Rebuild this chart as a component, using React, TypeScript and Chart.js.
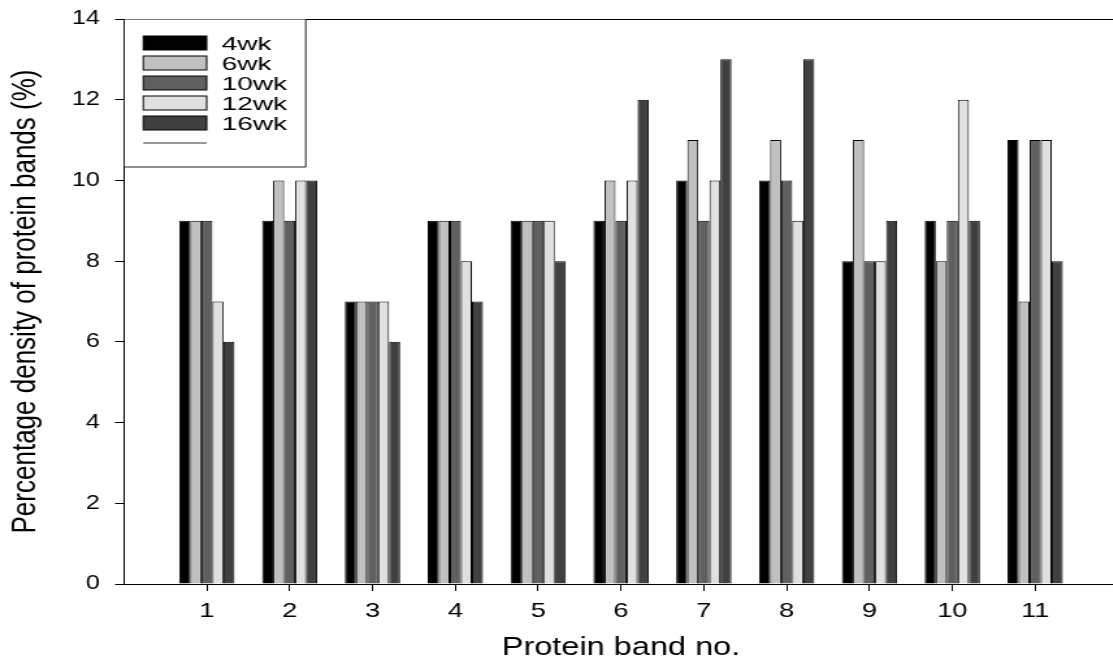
import React, { useEffect, useRef } from "react";
import { Chart, registerables } from "chart.js";

Chart.register(...registerables);

// ---- data ----
const bands = ["1", "2", "3", "4", "5", "6", "7", "8", "9", "10", "11"];
const seriesNames = ["4wk", "6wk", "10wk", "12wk", "16wk"];
const wk4 = [9, 9, 7, 9, 9, 9, 10, 10, 8, 9, 11];
const wk6 = [9, 10, 7, 9, 9, 10, 11, 11, 11, 8, 7];
const wk10 = [9, 9, 7, 9, 9, 9, 9, 10, 8, 9, 11];
const wk12 = [7, 10, 7, 8, 9, 10, 10, 9, 8, 12, 11];
const wk16 = [6, 10, 6, 7, 8, 12, 13, 13, 9, 9, 8];
const yTicks = [0, 2, 4, 6, 8, 10, 12, 14];

const seriesColors = ["#000000", "#c0c0c0", "#606060", "#e0e0e0", "#404040"];

const OUT_W = 1113;
const OUT_H = 667;
const STRETCH = 1113 / 856; // horizontal stretch of the original figure
const IN_W = 860; // internal canvas width (axis runs slightly past the right edge)
const CSS_W = IN_W * STRETCH;
const FONT = "'Liberation Sans', Arial, Helvetica, sans-serif";

const legendPlugin = {
  id: "boxLegend",
  afterDraw(chart: any) {
    const { ctx, chartArea } = chart;
    const L = chartArea.left;
    const T = chartArea.top;
    const boxR = 235.2;
    const boxB = T + 148;
    ctx.save();
    ctx.fillStyle = "#ffffff";
    ctx.fillRect(L + 0.5, T + 0.5, boxR - L - 0.5, boxB - T - 0.5);
    ctx.strokeStyle = "#222";
    ctx.lineWidth = 1;
    ctx.beginPath();
    ctx.moveTo(boxR, T);
    ctx.lineTo(boxR, boxB);
    ctx.lineTo(L, boxB);
    ctx.stroke();
    const sx = L + 14.8;
    const sw = 48.8;
    const sh = 14;
    chart.data.datasets.forEach((ds: any, i: number) => {
      const top = T + 17 + i * 20;
      ctx.fillStyle = ds.backgroundColor;
      ctx.fillRect(sx, top, sw, sh);
      ctx.strokeStyle = "#000";
      ctx.lineWidth = 1;
      ctx.strokeRect(sx, top, sw, sh);
      ctx.save();
      ctx.translate(170.5, top + 14);
      ctx.scale(1.2, 1);
      ctx.fillStyle = "#000";
      ctx.font = `18px ${FONT}`;
      ctx.textBaseline = "alphabetic";
      ctx.textAlign = "left";
      ctx.fillText(ds.label, 0, 0);
      ctx.restore();
    });
    const ly = T + 17 + 5 * 20 + 7;
    ctx.strokeStyle = "#333";
    ctx.lineWidth = 1.2;
    ctx.beginPath();
    ctx.moveTo(sx, ly);
    ctx.lineTo(sx + sw, ly);
    ctx.stroke();
    ctx.restore();
  },
};

export default function App() {
  const ref = useRef<HTMLCanvasElement | null>(null);

  useEffect(() => {
    if (!ref.current) return;
    const labels = ["", ...bands, ""];
    const pad = (arr: number[]) => [null, ...arr, null];
    const all = [wk4, wk6, wk10, wk12, wk16];
    const chart = new Chart(ref.current, {
      type: "bar",
      data: {
        labels,
        datasets: all.map((arr, i) => ({
          label: seriesNames[i],
          data: pad(arr) as any,
          backgroundColor: seriesColors[i],
          borderColor: "#000",
          borderWidth: 1,
          categoryPercentage: 0.667,
          barPercentage: 1.0,
        })),
      },
      options: {
        responsive: false,
        maintainAspectRatio: false,
        devicePixelRatio: 1,
        animation: false,
        layout: { padding: { top: 19, left: 0, right: 0, bottom: 0 } },
        plugins: {
          legend: { display: false },
          tooltip: { enabled: false },
        },
        scales: {
          x: {
            type: "category",
            offset: false,
            border: { display: true, color: "#000", width: 1 },
            grid: {
              offset: false,
              drawOnChartArea: false,
              drawTicks: true,
              tickLength: 7,
              tickColor: (c: any) =>
                c.index === 0 || c.index === labels.length - 1 ? "rgba(0,0,0,0)" : "#000",
            },
            ticks: {
              autoSkip: false,
              maxRotation: 0,
              minRotation: 0,
              padding: 8,
              color: "#000",
              font: { family: FONT, size: 21 },
            },
            title: {
              display: true,
              text: "Protein band no.",
              color: "#000",
              font: { family: FONT, size: 25 },
              padding: { top: 0, bottom: 4 },
            },
            afterFit: (scale: any) => {
              scale.height = 83;
              scale.paddingLeft = 0;
              scale.paddingRight = 0;
            },
          },
          y: {
            type: "linear",
            min: 0,
            max: 14,
            afterBuildTicks: (scale: any) => {
              scale.ticks = yTicks.map((v) => ({ value: v }));
            },
            border: { display: true, color: "#000", width: 1 },
            grid: {
              drawOnChartArea: true,
              drawTicks: true,
              tickLength: 6.9,
              color: (c: any) => (c.tick && c.tick.value === 14 ? "#000" : "rgba(0,0,0,0)"),
              tickColor: "#000",
            },
            ticks: {
              padding: 11.6,
              color: "#000",
              font: { family: FONT, size: 19.5 },
            },
            title: {
              display: true,
              text: "Percentage density of protein bands (%)",
              color: "#000",
              font: { family: FONT, size: 26 },
              padding: { top: 4.5, bottom: 0 },
            },
            afterFit: (scale: any) => {
              scale.width = 95.4;
              scale.paddingTop = 0;
              scale.paddingBottom = 0;
            },
          },
        },
      },
      plugins: [legendPlugin],
    });
    return () => chart.destroy();
  }, []);

  return (
    <div
      style={{
        position: "fixed",
        left: 0,
        top: 0,
        width: OUT_W,
        height: OUT_H,
        overflow: "hidden",
        background: "#fff",
      }}
    >
      <canvas
        ref={ref}
        width={IN_W}
        height={OUT_H}
        style={{ width: `${CSS_W}px`, height: `${OUT_H}px`, display: "block" }}
      />
    </div>
  );
}
